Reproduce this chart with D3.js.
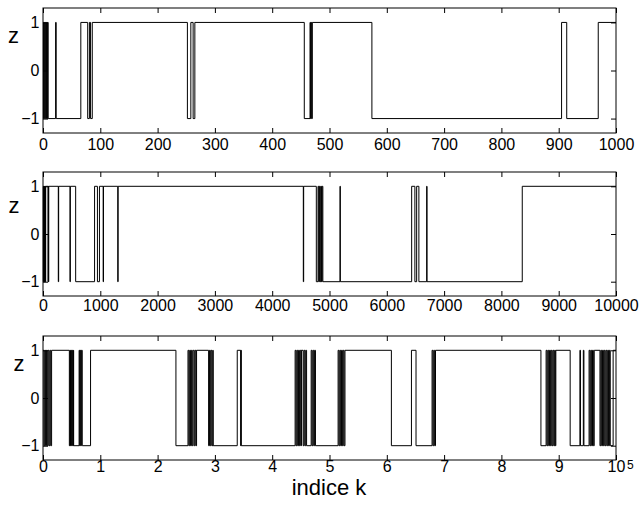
<!DOCTYPE html>
<html><head><meta charset="utf-8">
<script src="https://cdn.jsdelivr.net/npm/d3@7"></script>
<style>
body{margin:0;background:#fff;}
text{font-family:"Liberation Sans",Arial,sans-serif;fill:#000;}
</style></head>
<body>
<svg id="c" width="642" height="509"></svg>
<script>
// step data: [k, z] — z holds from k until next k
const steps1 = [[0,1],[1,-1],[2,1],[3,-1],[4,1],[5,-1],[6,1],[7,-1],[8,1],[9,-1],[22,1],[23,-1],[66,1],[78,-1],[81,1],[83,-1],[86,1],[252,-1],[258,1],[262,-1],[265,1],[456,-1],[466,1],[467,-1],[468,1],[469,-1],[470,1],[574,-1],[905,1],[914,-1],[969,1],[1000,1]];
const steps2 = [[0,1],[6,-1],[12,1],[18,-1],[24,1],[30,-1],[36,1],[42,-1],[47,1],[88,-1],[93,1],[97,-1],[100,1],[267,-1],[273,1],[471,-1],[477,1],[570,-1],[900,1],[950,-1],[985,1],[1050,-1],[1056,1],[1305,-1],[1311,1],[4543,-1],[4549,1],[4770,-1],[4800,1],[4812,-1],[4824,1],[4836,-1],[4848,1],[4860,-1],[4872,1],[4884,-1],[5183,1],[5189,-1],[6434,1],[6490,-1],[6521,1],[6560,-1],[6696,1],[6702,-1],[8364,1],[10000,1]];
const steps3 = [[0,1],[150,-1],[300,1],[450,-1],[600,1],[750,-1],[900,1],[1050,-1],[1200,1],[1350,-1],[1500,1],
[4600,-1],[4700,1],[4800,-1],[4900,1],[5000,-1],[5100,1],[5200,-1],[5300,1],[5350,-1],
[6300,1],[6400,-1],[6500,1],[6600,-1],[6700,1],[6850,-1],[8300,1],
[23200,-1],[25300,1],[25450,-1],[25600,1],[25750,-1],[25900,1],[26050,-1],[26200,1],[26400,-1],[26550,1],[26700,-1],[26800,1],
[28900,-1],[29050,1],[29200,-1],[29350,1],[29500,-1],[29650,1],[29700,-1],
[33900,1],[34500,-1],[34550,1],[34600,-1],
[44000,1],[44150,-1],[44300,1],[44450,-1],[44600,1],[44750,-1],[44900,1],[45050,-1],[45100,1],
[45400,-1],[45550,1],[45700,-1],[45850,1],[46000,-1],
[46800,1],[46950,-1],[47100,1],[47250,-1],[47400,1],[47550,-1],
[51500,1],[51650,-1],[51800,1],[51950,-1],[52100,1],[52250,-1],[52400,1],[52550,-1],[52700,1],
[60800,-1],[64300,1],[65100,-1],
[67900,1],[68050,-1],[68200,1],[68350,-1],[68500,1],
[86900,-1],[87800,1],[87950,-1],[88100,1],[88250,-1],[88400,1],[88550,-1],[88700,1],[88850,-1],[89000,1],[89150,-1],[89300,1],[89400,-1],[89500,1],
[92000,-1],[93700,1],[93800,-1],[94300,1],[94400,-1],
[95300,1],[95450,-1],[95600,1],[95750,-1],[95900,1],[96050,-1],[96200,1],
[97200,-1],[97350,1],[97500,-1],[97650,1],[97800,-1],[97950,1],[98100,-1],[98250,1],[98400,-1],[98550,1],[98700,-1],[98850,1],[99000,-1],
[99500,1],[100000,1]];

const xTicks1 = [0,100,200,300,400,500,600,700,800,900,1000];
const xTicks2 = [0,1000,2000,3000,4000,5000,6000,7000,8000,9000,10000];
const xTicks3 = [0,10000,20000,30000,40000,50000,60000,70000,80000,90000,100000];
const xLabels3 = ["0","1","2","3","4","5","6","7","8","9","10"];
const yTicks = [-1,0,1];

const svg = d3.select("#c");
const left = 43, right = 616;
const panels = [
  {steps:steps1, max:1000, ticks:xTicks1, fmt:d=>String(d), top:8, bottom:133, pad:6, zx:13.5, zy:43},
  {steps:steps2, max:10000, ticks:xTicks2, fmt:d=>String(d), top:172, bottom:296, pad:4, zx:14, zy:213},
  {steps:steps3, max:100000, ticks:xTicks3, fmt:(d,i)=>xLabels3[i], top:336, bottom:460, pad:0.5, zx:19, zy:371}
];

panels.forEach((p,pi)=>{
  const x = d3.scaleLinear().domain([0,p.max]).range([left,right]);
  const y = d3.scaleLinear().domain([-1.3,1.3]).range([p.bottom,p.top]);
  const g = svg.append("g");
  const line = d3.line().x(d=>x(d[0])).y(d=>y(d[1])).curve(d3.curveStepAfter);
  g.append("path").datum(p.steps).attr("d",line)
    .attr("fill","none").attr("stroke","#000").attr("stroke-width",1);
  const ax = g.append("g").attr("transform",`translate(0,${p.bottom})`)
    .call(d3.axisBottom(x).tickValues(p.ticks).tickSize(-5).tickPadding(p.pad).tickFormat(p.fmt));
  const axT = g.append("g").attr("transform",`translate(0,${p.top})`)
    .call(d3.axisTop(x).tickValues(p.ticks).tickSize(-5).tickFormat(""));
  const ay = g.append("g").attr("transform",`translate(${left},0)`)
    .call(d3.axisLeft(y).tickValues(yTicks).tickSize(-5).tickPadding(3.5).tickFormat(d3.format("d")));
  const ayR = g.append("g").attr("transform",`translate(${right},0)`)
    .call(d3.axisRight(y).tickValues(yTicks).tickSize(-5).tickFormat(""));
  [ax,axT,ay,ayR].forEach(a=>{
    a.select(".domain").remove();
    a.selectAll("line").attr("stroke","#000");
    a.selectAll("text").attr("font-size",16).attr("font-family","Liberation Sans, Arial, sans-serif");
  });
  g.append("rect").attr("x",left).attr("y",p.top).attr("width",right-left).attr("height",p.bottom-p.top)
    .attr("fill","none").attr("stroke","#000").attr("stroke-width",1);
  g.append("text").attr("x",p.zx).attr("y",p.zy).attr("text-anchor","middle")
    .attr("font-size",22).text("z");
  if(pi===2){
    g.append("text").attr("x",right+11).attr("y",p.bottom+9).attr("font-size",12).text("5");
  }
});
svg.append("text").attr("x",329).attr("y",495).attr("text-anchor","middle")
  .attr("font-size",22).text("indice k");
</script>
</body></html>
